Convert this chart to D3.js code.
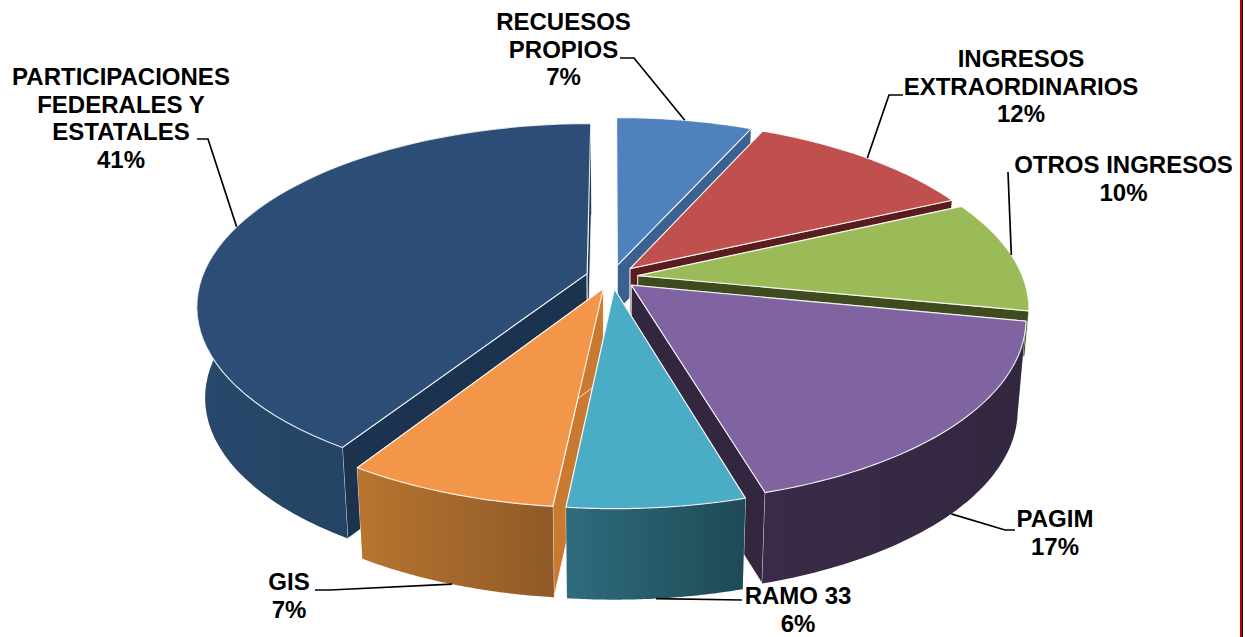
<!DOCTYPE html>
<html>
<head>
<meta charset="utf-8">
<script src="https://cdn.jsdelivr.net/npm/d3@7"></script>
<style>
  html, body { margin: 0; padding: 0; background: #fff; }
  text { font-family: "Liberation Sans", Arial, sans-serif; font-weight: bold; font-size: 24px; fill: #000; }
</style>
</head>
<body>
<div id="wrapper"></div>
<script>
const categories = ["RECUESOS PROPIOS", "INGRESOS EXTRAORDINARIOS", "OTROS INGRESOS", "PAGIM", "RAMO 33", "GIS", "PARTICIPACIONES FEDERALES Y ESTATALES"]
// slice sizes, they round to the printed percentages
const shares = [6.7, 11.4, 10.0, 17.4, 6.15, 7.35, 41.0]
const labelLines = [
    ["RECUESOS", "PROPIOS", "7%"],
    ["INGRESOS", "EXTRAORDINARIOS", "12%"],
    ["OTROS INGRESOS", "10%"],
    ["PAGIM", "17%"],
    ["RAMO 33", "6%"],
    ["GIS", "7%"],
    ["PARTICIPACIONES", "FEDERALES Y", "ESTATALES", "41%"],
]
const topColors = ["#4F81BD", "#C0504D", "#9BBB59", "#8064A2", "#4BACC6", "#F4964A", "#2C4D75"]
const sideColors = ["#3A6190", "#5A1C1C", "#3F4A1F", "#33263F", "#2E6C7E", "#C97A30", "#1C3350"]
const rimFrom = [null, null, null, "#3A2C48", "#2E6C7E", "#B8752F", "#28496C"]
const rimTo = [null, null, null, "#33263F", "#1E4A55", "#8F5A28", "#1F3B59"]

// label anchor (centre x, first baseline y), then leader elbow points
const labelLayout = [
    { x: 563.5, y: 30, leader: [[634, 58], [620, 58]], base: 0 },
    { x: 1021, y: 67, leader: [[889, 95], [903, 95]], base: 0 },
    { x: 1123.5, y: 173, leader: [[1008, 172]], base: 0 },
    { x: 1055, y: 527, leader: [[1005, 530], [1015, 530]], base: 1 },
    { x: 798, y: 604, leader: [[742, 600]], base: 1 },
    { x: 289, y: 590, leader: [[330, 590], [315, 590]], base: 1 },
    { x: 121, y: 85, leader: [[208, 139], [197, 139]], base: 0 },
]

const dimensions = { width: 1245, height: 637 }

// 3d pie model
const pieModel = {
    cx: 612, cy: 277,
    radius: 385,
    squash: 0.46,
    perspective: 0.1725,
    depth: 91,
    shrink: 0.02,
    explode: 26,
}

const pieAngles = d3.pie().sort(null).startAngle(0).endAngle(2 * Math.PI)(shares)

const project = (slice, angle, r, z) => {
    const m = pieModel
    const mid = (slice.startAngle + slice.endAngle) / 2
    const X = m.radius * r * Math.sin(angle) + m.explode * Math.sin(mid)
    const Y = -m.radius * r * Math.cos(angle) - m.explode * Math.cos(mid)
    const w = 1 / (1 - m.perspective * Y / m.radius)
    return [m.cx + X * w * (1 - m.shrink * z), m.cy + m.squash * Y * w + m.depth * z]
}

const arcPoints = (slice, z, reverse) => {
    const steps = 60
    const angle = d3.scaleLinear().domain([0, steps]).range(
        reverse ? [slice.endAngle, slice.startAngle] : [slice.startAngle, slice.endAngle])
    return d3.range(steps + 1).map(i => project(slice, angle(i), 1, z))
}

const lineGen = d3.line()
const closed = pts => lineGen(pts) + "Z"

const wrapper = d3.select("#wrapper")
    .append("svg")
    .attr("width", dimensions.width)
    .attr("height", dimensions.height)
    .style("display", "block")

const defs = wrapper.append("defs")
pieAngles.forEach((slice, i) => {
    if (!rimFrom[i]) return
    const xs = d3.extent(arcPoints(slice, 0, false), p => p[0])
    const grad = defs.append("linearGradient")
        .attr("id", `rim${i}`)
        .attr("gradientUnits", "userSpaceOnUse")
        .attr("x1", xs[0]).attr("x2", xs[1])
        .attr("y1", 0).attr("y2", 0)
    grad.append("stop").attr("offset", 0).attr("stop-color", rimFrom[i])
    grad.append("stop").attr("offset", 1).attr("stop-color", rimTo[i])
})

// painter's order, back slices first
const drawOrder = [0, 1, 6, 2, 5, 3, 4]
const edgeStroke = "#fff"

const slices = wrapper.append("g").attr("class", "slices")
drawOrder.forEach(i => {
    const slice = pieAngles[i]
    const g = slices.append("g").attr("class", "slice")
    // back slices only show a strip of wall, keep it from poking out past the front ones
    const wallZ = rimFrom[i] ? 1 : 0.5

    // side walls along the two straight edges
    ;[slice.startAngle, slice.endAngle].forEach(a => {
        g.append("path")
            .attr("d", closed([
                project(slice, a, 0, 0), project(slice, a, 1, 0),
                project(slice, a, 1, wallZ), project(slice, a, 0, wallZ),
            ]))
            .attr("fill", sideColors[i])
            .attr("stroke", edgeStroke)
            .attr("stroke-width", 1)
            .attr("stroke-opacity", 0.8)
    })

    // outer rim, only the slices facing the viewer show one
    if (rimFrom[i]) {
        g.append("path")
            .attr("d", closed(arcPoints(slice, 0, false).concat(arcPoints(slice, 1, true))))
            .attr("fill", `url(#rim${i})`)
    }

    // top face
    g.append("path")
        .attr("d", closed([project(slice, 0, 0, 0)].concat(arcPoints(slice, 0, false))))
        .attr("fill", topColors[i])
        .attr("stroke", edgeStroke)
        .attr("stroke-width", 1.2)
        .attr("stroke-opacity", 0.85)
        .attr("stroke-linejoin", "round")
})

// leaders and labels
const labels = wrapper.append("g").attr("class", "labels")
pieAngles.forEach((slice, i) => {
    const layout = labelLayout[i]
    const mid = (slice.startAngle + slice.endAngle) / 2
    const pts = [project(slice, mid, 1, layout.base)].concat(layout.leader)
    labels.append("path")
        .attr("d", lineGen(pts))
        .attr("fill", "none")
        .attr("stroke", "#000")
        .attr("stroke-width", 1.7)
    const text = labels.append("text")
        .attr("text-anchor", "middle")
        .attr("aria-label", categories[i])
    labelLines[i].forEach((line, n) => {
        text.append("tspan")
            .attr("x", layout.x)
            .attr("y", layout.y + n * 27.6)
            .text(line)
    })
})

// right edge of the page frame
wrapper.append("rect").attr("x", 1240).attr("y", 0).attr("width", 2).attr("height", dimensions.height).attr("fill", "#C00000")
wrapper.append("rect").attr("x", 1242).attr("y", 0).attr("width", 1).attr("height", dimensions.height).attr("fill", "#000")
</script>
</body>
</html>
